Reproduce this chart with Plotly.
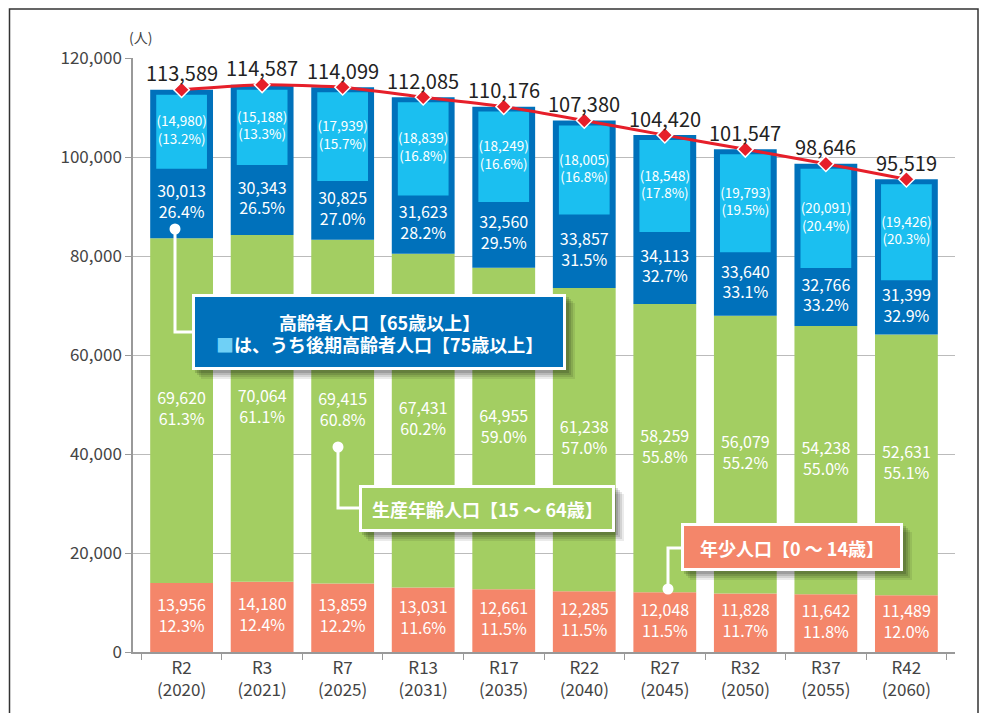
import plotly.graph_objects as go

# ---------------- data ----------------
categories = ["R2<br>(2020)", "R3<br>(2021)", "R7<br>(2025)", "R13<br>(2031)", "R17<br>(2035)",
              "R22<br>(2040)", "R27<br>(2045)", "R32<br>(2050)", "R37<br>(2055)", "R42<br>(2060)"]
total = [113589, 114587, 114099, 112085, 110176, 107380, 104420, 101547, 98646, 95519]
young = [13956, 14180, 13859, 13031, 12661, 12285, 12048, 11828, 11642, 11489]
young_pct = [12.3, 12.4, 12.2, 11.6, 11.5, 11.5, 11.5, 11.7, 11.8, 12.0]
working = [69620, 70064, 69415, 67431, 64955, 61238, 58259, 56079, 54238, 52631]
working_pct = [61.3, 61.1, 60.8, 60.2, 59.0, 57.0, 55.8, 55.2, 55.0, 55.1]
elderly = [30013, 30343, 30825, 31623, 32560, 33857, 34113, 33640, 32766, 31399]
elderly_pct = [26.4, 26.5, 27.0, 28.2, 29.5, 31.5, 32.7, 33.1, 33.2, 32.9]
late_elderly = [14980, 15188, 17939, 18839, 18249, 18005, 18548, 19793, 20091, 19426]
late_elderly_pct = [13.2, 13.3, 15.7, 16.8, 16.6, 16.8, 17.8, 19.5, 20.4, 20.3]
y_ticks = [0, 20000, 40000, 60000, 80000, 100000, 120000]

# ---------------- style ----------------
C_YOUNG = "#F4866A"
C_WORK = "#A3CE62"
C_OLD = "#0071BB"
C_LATE = "#1BBFF0"
C_RED = "#E61F2A"
FONT = "Noto Sans CJK JP"
INSET = 1000          # visual inset of the inner (75+) bar inside the 65+ bar
W_MAIN, W_INNER = 0.78, 0.63

fig = go.Figure()

base_work = [y for y in young]
base_old = [y + w for y, w in zip(young, working)]
base_late = [t - l - INSET for t, l in zip(total, late_elderly)]

fig.add_trace(go.Bar(x=categories, y=young, base=[0] * len(young), width=W_MAIN,
                     marker=dict(color=C_YOUNG, line=dict(width=0)), name="young"))
fig.add_trace(go.Bar(x=categories, y=working, base=base_work, width=W_MAIN,
                     marker=dict(color=C_WORK, line=dict(width=0)), name="working"))
fig.add_trace(go.Bar(x=categories, y=elderly, base=base_old, width=W_MAIN,
                     marker=dict(color=C_OLD, line=dict(width=0)), name="elderly"))
fig.add_trace(go.Bar(x=categories, y=late_elderly, base=base_late, width=W_INNER,
                     marker=dict(color=C_LATE, line=dict(width=0)), name="late"))


def fmt(v):
    return f"{v:,}"


fig.add_trace(go.Scatter(
    x=categories, y=[y / 2 for y in young], mode="text",
    text=[f"{fmt(v)}<br>{p:.1f}%" for v, p in zip(young, young_pct)],
    textfont=dict(color="white", size=16, family=FONT), textposition="middle center"))
fig.add_trace(go.Scatter(
    x=categories, y=[b + w / 2 for b, w in zip(base_work, working)], mode="text",
    text=[f"{fmt(v)}<br>{p:.1f}%" for v, p in zip(working, working_pct)],
    textfont=dict(color="white", size=16, family=FONT), textposition="middle center"))
fig.add_trace(go.Scatter(
    x=categories, y=[(b + l) / 2 for b, l in zip(base_old, base_late)], mode="text",
    text=[f"{fmt(v)}<br>{p:.1f}%" for v, p in zip(elderly, elderly_pct)],
    textfont=dict(color="white", size=16, family=FONT), textposition="middle center"))
fig.add_trace(go.Scatter(
    x=categories, y=[b + l / 2 for b, l in zip(base_late, late_elderly)], mode="text",
    text=[f"({fmt(v)})<br>({p:.1f}%)" for v, p in zip(late_elderly, late_elderly_pct)],
    textfont=dict(color="white", size=13.5, family=FONT), textposition="middle center"))

# total line
fig.add_trace(go.Scatter(
    x=categories, y=total, mode="lines+markers",
    line=dict(color=C_RED, width=3, shape="spline", smoothing=0.6),
    marker=dict(symbol="diamond", size=12, color=C_RED, line=dict(color="white", width=1.5))))

for c, t in zip(categories, total):
    fig.add_annotation(x=c, y=t, text=fmt(t), showarrow=False, yshift=17,
                       xanchor="center", yanchor="middle",
                       font=dict(size=20, color="#222", family=FONT))

# ---------------- callouts (screen pixel helpers) ----------------
L, R, T, B = 133, 955, 58, 652   # plot area in screen pixels


def px(x):
    return (x - L) / (R - L)


def py(y):
    return (B - y) / (B - T)


shapes = []


def callout(box, dot, corner_y, fill):
    x0, y0, x1, y1 = box
    for off, op in [(9, 0.08), (7, 0.10), (5, 0.12), (3, 0.14)]:
        shapes.append(dict(type="rect", xref="paper", yref="paper", layer="above",
                           x0=px(x0 + off), x1=px(x1 + off), y0=py(y0 + off), y1=py(y1 + off),
                           fillcolor=f"rgba(0,0,0,{op})", line=dict(width=0)))
    dx, dy = dot
    shapes.append(dict(type="path", xref="paper", yref="paper", layer="above",
                       path=f"M {px(dx)} {py(dy)} L {px(dx)} {py(corner_y)} L {px(x0)} {py(corner_y)}",
                       line=dict(color="white", width=3)))
    shapes.append(dict(type="circle", xref="paper", yref="paper", layer="above",
                       x0=px(dx - 5.5), x1=px(dx + 5.5), y0=py(dy - 5.5), y1=py(dy + 5.5),
                       fillcolor="white", line=dict(width=0)))
    shapes.append(dict(type="rect", xref="paper", yref="paper", layer="above",
                       x0=px(x0 + 1.5), x1=px(x1 - 1.5), y0=py(y0 + 1.5), y1=py(y1 - 1.5),
                       fillcolor=fill, line=dict(color="white", width=3)))


callout((192, 294, 566, 370), (175, 229), 332, C_OLD)
callout((359, 485, 615, 532), (338, 447), 508, C_WORK)
callout((681, 523, 903, 571), (668, 589), 548, C_YOUNG)

# outer frame
shapes.append(dict(type="rect", xref="paper", yref="paper", layer="above",
                   x0=px(9.5), x1=px(978), y0=py(730), y1=py(9),
                   fillcolor="rgba(0,0,0,0)", line=dict(color="#333", width=1.5)))


def label(x, y, text, size=18, color="white"):
    fig.add_annotation(xref="paper", yref="paper", x=px(x), y=py(y), showarrow=False,
                       xanchor="center", yanchor="middle", text=text,
                       font=dict(size=size, color=color, family=FONT))


label(379, 322, "<b>高齢者人口【65歳以上】</b>")
label(379, 344, "<b><span style='color:#6FD0F6'>■</span>は、うち後期高齢者人口【75歳以上】</b>")
label(487, 509, "<b>生産年齢人口【15 ～ 64歳】</b>")
label(792, 548, "<b>年少人口【0 ～ 14歳】</b>")
label(140, 37, "(人)", size=14, color="#444")

fig.update_layout(
    width=988, height=713, autosize=False,
    margin=dict(l=L, r=988 - R, t=T, b=713 - B, autoexpand=False),
    paper_bgcolor="white", plot_bgcolor="white",
    barmode="overlay", showlegend=False,
    font=dict(family=FONT, color="#444"),
    shapes=shapes,
    xaxis=dict(type="category", showline=True, linecolor="#999", linewidth=1.5,
               ticks="outside", tickson="boundaries", ticklen=6, tickcolor="#999",
               tickfont=dict(size=17, color="#444", family=FONT), showgrid=False,
               automargin=False),
    yaxis=dict(range=[0, 120000], tickvals=y_ticks, tickformat=",", showline=True,
               linecolor="#999", linewidth=1.5, ticks="outside", ticklen=6, tickcolor="#999",
               gridcolor="#BBBBBB", gridwidth=1, zeroline=False, automargin=False,
               tickfont=dict(size=17, color="#444", family=FONT)),
)

fig.write_html(
    "out.html",
    config={"responsive": False, "displayModeBar": False},
    post_script="document.body.style.margin='0';document.documentElement.style.overflow='hidden';",
)
